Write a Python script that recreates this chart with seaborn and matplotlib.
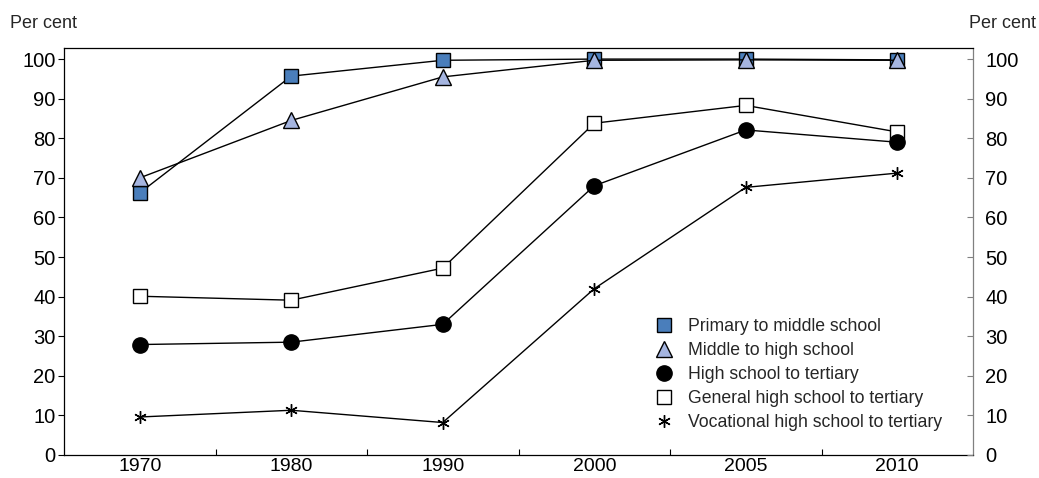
import matplotlib
matplotlib.use("Agg")
import matplotlib.pyplot as plt
from matplotlib.ticker import FixedLocator
from matplotlib.lines import Line2D
import seaborn as sns
import pandas as pd

years = ["1970", "1980", "1990", "2000", "2005", "2010"]
primary_to_middle = [66.2, 95.7, 99.7, 100.0, 100.0, 99.8]
middle_to_high = [70.0, 84.5, 95.5, 99.7, 99.8, 99.7]
high_to_tertiary = [27.9, 28.5, 33.0, 68.0, 82.1, 79.0]
general_to_tertiary = [40.1, 39.1, 47.2, 83.8, 88.3, 81.6]
vocational_to_tertiary = [9.6, 11.3, 8.2, 42.0, 67.6, 71.2]

series_names = [
    "Primary to middle school",
    "Middle to high school",
    "High school to tertiary",
    "General high school to tertiary",
    "Vocational high school to tertiary",
]
series_values = [primary_to_middle, middle_to_high, high_to_tertiary,
                 general_to_tertiary, vocational_to_tertiary]

sns.set_theme(style="white")
plt.rcParams["font.family"] = ["Liberation Sans", "DejaVu Sans"]

fig = plt.figure(figsize=(10.39, 4.78), dpi=100)
ax = fig.add_axes([64 / 1039, 1 - 455 / 478, (973 - 64) / 1039, (455 - 48) / 478])

styles = {
    "Primary to middle school": dict(marker="s", markersize=10, markerfacecolor="#4a7ebb", zorder=3),
    "Middle to high school": dict(marker="^", markersize=12, markerfacecolor="#a5b5e0", zorder=4),
    "High school to tertiary": dict(marker="o", markersize=11, markerfacecolor="black", zorder=6),
    "General high school to tertiary": dict(marker="s", markersize=10, markerfacecolor="white", zorder=5),
    "Vocational high school to tertiary": dict(marker=(6, 2, 0), markersize=9, markerfacecolor="black", zorder=5),
}

for name, vals in zip(series_names, series_values):
    df = pd.DataFrame({"year": years, "value": vals})
    st = styles[name]
    sns.lineplot(data=df, x="year", y="value", ax=ax, color="black", linewidth=1.0,
                 marker=st["marker"], markersize=st["markersize"],
                 markerfacecolor=st["markerfacecolor"], markeredgecolor="black",
                 markeredgewidth=1.0, zorder=st["zorder"], label=name, legend=False)

handles = []
for name in series_names:
    st = styles[name]
    handles.append(Line2D([], [], linestyle="none", marker=st["marker"],
                          markersize=st["markersize"],
                          markerfacecolor=st["markerfacecolor"], markeredgecolor="black",
                          markeredgewidth=1.0, label=name))

ax.set_xlim(-0.5, len(years) - 0.5)
ax.set_ylim(0, 102.8)
ax.set_xlabel("")
ax.set_ylabel("")
ax.set_yticks(range(0, 101, 10))
ax.tick_params(axis="y", which="major", direction="out", length=4, width=0.8,
               labelsize=14.5, colors="black", pad=2, left=True)
ax.tick_params(axis="x", which="major", length=0, labelsize=14, pad=2, colors="black")
ax.xaxis.set_minor_locator(FixedLocator([i + 0.5 for i in range(len(years) - 1)]))
ax.tick_params(axis="x", which="minor", direction="in", length=4, width=0.8, bottom=True, color="black")

for sp in ax.spines.values():
    sp.set_visible(True)
    sp.set_color("black")
    sp.set_linewidth(0.9)
ax.spines["right"].set_color("#808080")

ax2 = ax.twinx()
ax2.set_ylim(ax.get_ylim())
ax2.set_yticks(range(0, 101, 10))
ax2.tick_params(axis="y", direction="in", length=4, width=0.8, labelsize=14.5,
                colors="black", pad=9, right=True)
ax2.tick_params(axis="y", which="major", color="#808080")
for sp in ax2.spines.values():
    sp.set_visible(False)
ax2.grid(False)
ax.grid(False)

fig.text(10 / 1039, 1 - 23 / 478, "Per cent", fontsize=13, ha="left", va="center")
fig.text(1036 / 1039, 1 - 23 / 478, "Per cent", fontsize=13, ha="right", va="center")

leg = ax.legend(handles=handles, loc="upper left",
                bbox_to_anchor=(655 / 1039, 1 - 318 / 478),
                bbox_transform=fig.transFigure, frameon=False, fontsize=12.7,
                handlelength=1.0, handletextpad=0.85, labelspacing=0.4,
                borderaxespad=0, borderpad=0)

fig.savefig("out.png", dpi=100)
